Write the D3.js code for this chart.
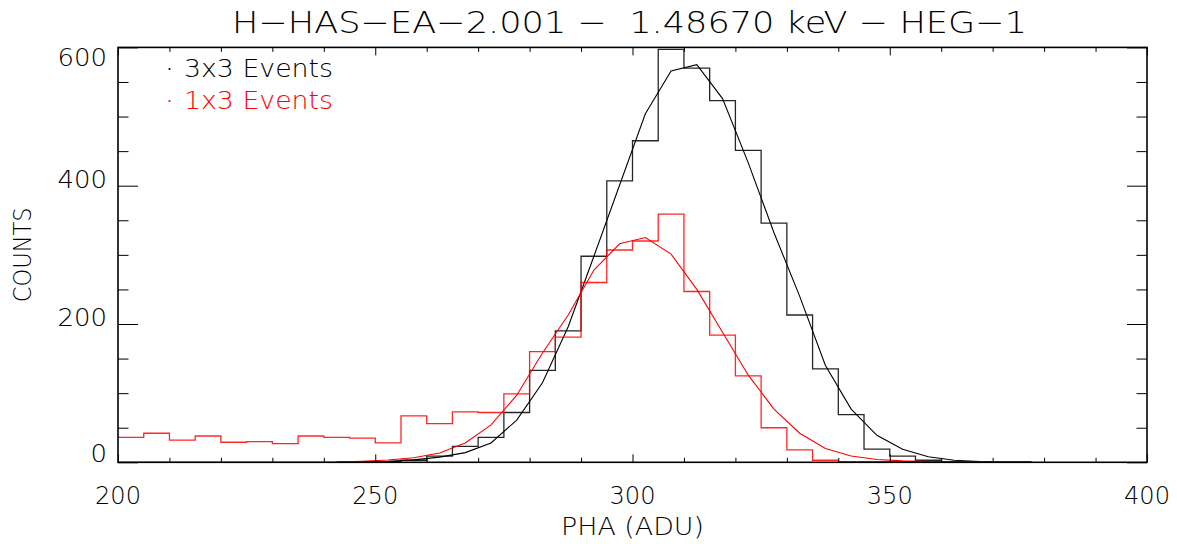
<!DOCTYPE html>
<html>
<head>
<meta charset="utf-8">
<script src="https://cdn.jsdelivr.net/npm/d3@7/dist/d3.min.js"></script>
<style>
  html, body { margin: 0; padding: 0; background: #fff; }
  svg { display: block; }
  text { font-family: "DejaVu Sans", "Liberation Sans", sans-serif; font-weight: 200; white-space: pre; }
</style>
</head>
<body>
<svg id="chart" width="1177" height="544"></svg>
<script>
// ---------------- data ----------------
const titleText = "H\u2212HAS\u2212EA\u22122.001 \u2212  1.48670 keV \u2212 HEG\u22121";
const xAxisTitle = "PHA (ADU)";
const yAxisTitle = "COUNTS";
const xTickLabels = [200, 250, 300, 350, 400];
const yTickLabels = [0, 200, 400, 600];
const seriesNames = ["3x3 Events", "1x3 Events"];
const seriesColors = ["#000000", "#ff0000"];

// bin centres (PHA, ADU), 5 ADU bins
const binCenters = [197.5, 202.5, 207.5, 212.5, 217.5, 222.5, 227.5, 232.5, 237.5, 242.5,
  247.5, 252.5, 257.5, 262.5, 267.5, 272.5, 277.5, 282.5, 287.5, 292.5,
  297.5, 302.5, 307.5, 312.5, 317.5, 322.5, 327.5, 332.5, 337.5, 342.5,
  347.5, 352.5, 357.5, 362.5, 367.5, 372.5, 377.5];

// histogram counts, 3x3 events
const counts3x3 = [0, 0, 0, 0, 0, 0, 0, 0, 0, 0,
  0, 1, 3, 9, 23, 36, 72, 133, 190, 298,
  407, 465, 597, 570, 523, 451, 346, 213, 135, 69,
  19, 9, 3, 1, 1, 0, 1];

// histogram counts, 1x3 events
const counts1x3 = [36, 36, 42, 32, 38, 29, 30, 27, 38, 36,
  35, 28, 67, 56, 73, 72, 99, 160, 181, 260,
  307, 320, 359, 247, 184, 125, 50, 18, 3, 1,
  1, 1, 1, 0, 0, 1, 1];

// fitted model curves evaluated at bin centres
const fitCenters = [242.5, 247.5, 252.5, 257.5, 262.5, 267.5, 272.5, 277.5, 282.5, 287.5,
  292.5, 297.5, 302.5, 307.5, 312.5, 317.5, 322.5, 327.5, 332.5, 337.5,
  342.5, 347.5, 352.5, 357.5, 362.5, 367.5, 372.5, 377.5];
const fit3x3 = [0.3, 0.7, 1.5, 3.5, 7.5, 14, 28, 61, 115, 196,
  298, 401, 504, 566, 575, 526, 433, 332, 240, 140,
  77, 39, 19, 8, 3, 1, 0.4, 0.2];
const fit1x3 = [0.5, 1.5, 3.3, 6.5, 13.5, 28, 54, 97, 158, 213,
  278, 316, 325, 301, 250, 188, 126, 77, 42, 20,
  9, 4, 2, 1, 0.5, 0.2, 0.1, 0];

// ---------------- layout ----------------
const plot = { left: 118, right: 1147, top: 47.4, bottom: 462.3 };

const svg = d3.select("#chart");
const x = d3.scaleLinear().domain([xTickLabels[0], xTickLabels[xTickLabels.length - 1]]).range([plot.left, plot.right]);
const y = d3.scaleLinear().domain([yTickLabels[0], yTickLabels[yTickLabels.length - 1]]).range([plot.bottom, plot.top]);

svg.append("defs").append("clipPath").attr("id", "clip")
  .append("rect").attr("x", plot.left).attr("y", plot.top - 2)
  .attr("width", plot.right - plot.left).attr("height", plot.bottom - plot.top + 2);

// IDL psym=10 style histogram path
function stepPath(xs, ys) {
  let p = "M" + x(xs[0]) + "," + y(ys[0]);
  for (let i = 1; i < xs.length; i++) {
    const mid = x((xs[i - 1] + xs[i]) / 2);
    p += "H" + mid + "V" + y(ys[i]);
  }
  p += "H" + x(xs[xs.length - 1]);
  return p;
}

const g = svg.append("g").attr("clip-path", "url(#clip)");
const line = d3.line().x((d, i) => x(fitCenters[i])).y(d => y(d));

g.append("path").attr("d", stepPath(binCenters, counts3x3))
  .attr("fill", "none").attr("stroke", seriesColors[0]).attr("stroke-width", 1.3).attr("stroke-opacity", 0.85);
g.append("path").attr("d", line(fit3x3))
  .attr("fill", "none").attr("stroke", seriesColors[0]).attr("stroke-width", 1.1);
g.append("path").attr("d", stepPath(binCenters, counts1x3))
  .attr("fill", "none").attr("stroke", seriesColors[1]).attr("stroke-width", 1.3).attr("stroke-opacity", 0.85);
g.append("path").attr("d", line(fit1x3))
  .attr("fill", "none").attr("stroke", seriesColors[1]).attr("stroke-width", 1.1);

// ---------------- axes ----------------
const axisColor = "#000";
const xMinor = d3.range(xTickLabels[0], xTickLabels[xTickLabels.length - 1] + 0.001, 10);
const yMinor = d3.range(yTickLabels[0], yTickLabels[yTickLabels.length - 1] + 0.001, 50);

function drawXAxis(ypos, dir) {
  const ax = d3.axisBottom(x).tickValues(xMinor).tickFormat("").tickSizeOuter(0).tickSizeInner(0);
  const a = svg.append("g").attr("transform", `translate(0,${ypos})`).call(ax);
  a.select(".domain").remove();
  a.selectAll(".tick line")
    .attr("y2", d => dir * (xTickLabels.includes(d) ? 8 : 4.5))
    .attr("stroke", axisColor).attr("stroke-width", 1);
}
function drawYAxis(xpos, dir) {
  const ax = d3.axisLeft(y).tickValues(yMinor).tickFormat("").tickSizeOuter(0).tickSizeInner(0);
  const a = svg.append("g").attr("transform", `translate(${xpos},0)`).call(ax);
  a.select(".domain").remove();
  a.selectAll(".tick line")
    .attr("x2", d => dir * (yTickLabels.includes(d) ? 20 : 10.5))
    .attr("stroke", axisColor).attr("stroke-width", 1);
}
drawXAxis(plot.bottom, -1);
drawXAxis(plot.top, 1);
drawYAxis(plot.left, 1);
drawYAxis(plot.right, -1);

svg.append("rect").attr("x", plot.left).attr("y", plot.top)
  .attr("width", plot.right - plot.left).attr("height", plot.bottom - plot.top)
  .attr("fill", "none").attr("stroke", axisColor).attr("stroke-width", 1.6);

// tick labels
const labelSize = 24;
svg.append("g").selectAll("text").data(xTickLabels).join("text")
  .attr("x", d => x(d)).attr("y", 504)
  .attr("text-anchor", "middle").attr("font-size", labelSize).attr("fill", "#000")
  .attr("textLength", 46).attr("lengthAdjust", "spacingAndGlyphs")
  .text(d => d);

svg.append("g").selectAll("text").data(yTickLabels).join("text")
  .attr("x", plot.left - 11)
  .attr("y", d => Math.min(Math.max(y(d) + 2, plot.top + 19), plot.bottom))
  .attr("text-anchor", "end").attr("font-size", labelSize).attr("fill", "#000")
  .attr("textLength", d => String(d).length * 16.5).attr("lengthAdjust", "spacingAndGlyphs")
  .text(d => d);

// axis titles
svg.append("text").attr("x", (plot.left + plot.right) / 2).attr("y", 535)
  .attr("text-anchor", "middle").attr("font-size", 24).attr("fill", "#000")
  .attr("textLength", 143).attr("lengthAdjust", "spacingAndGlyphs")
  .text(xAxisTitle);
svg.append("text")
  .attr("transform", `translate(31,${(plot.top + plot.bottom) / 2}) rotate(-90)`)
  .attr("text-anchor", "middle").attr("font-size", 24).attr("fill", "#000")
  .attr("textLength", 95).attr("lengthAdjust", "spacingAndGlyphs")
  .text(yAxisTitle);

// title
svg.append("text").attr("x", 629.5).attr("y", 33)
  .attr("text-anchor", "middle").attr("font-size", 31).attr("fill", "#000")
  .attr("textLength", 795).attr("lengthAdjust", "spacingAndGlyphs")
  .text(titleText);

// legend
const leg = svg.append("g");
seriesNames.forEach((name, i) => {
  const ly = 77 + i * 32;
  leg.append("circle").attr("cx", 169.5).attr("cy", ly - 8).attr("r", 1.1).attr("fill", seriesColors[i]);
  leg.append("text").attr("x", 184).attr("y", ly)
    .attr("font-size", 24).attr("fill", seriesColors[i])
    .attr("textLength", 149).attr("lengthAdjust", "spacingAndGlyphs")
    .text(name);
});
</script>
</body>
</html>
